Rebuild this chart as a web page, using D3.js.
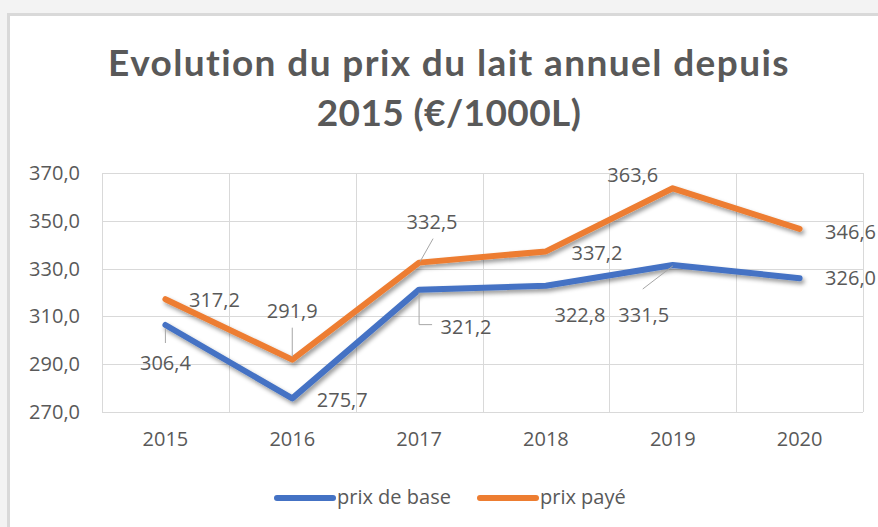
<!DOCTYPE html>
<html lang="fr">
<head>
<meta charset="utf-8">
<script src="https://d3js.org/d3.v7.min.js"></script>
<title>Evolution du prix du lait</title>
<style>
  body { margin: 0; background: #f3f3f3; }
  svg { display: block; }
  .grid line { stroke: #d9d9d9; stroke-width: 1; }
  .lbl { font-family: "Open Sans", sans-serif; font-size: 20px; fill: #595959; }
</style>
</head>
<body>
<svg width="878" height="527"></svg>
<script>
// data
var years = ["2015", "2016", "2017", "2018", "2019", "2020"];
var prixBase = [306.4, 275.7, 321.2, 322.8, 331.5, 326.0];
var prixPaye = [317.2, 291.9, 332.5, 337.2, 363.6, 346.6];
var yTicks = [270, 290, 310, 330, 350, 370];
var seriesNames = ["prix de base", "prix payé"];
var seriesColors = ["#4472c4", "#ed7d31"];

// where Excel put each data label, relative to its point (dx, dy)
var baseLabelOffsets = [[0, 38], [50, 2], [47, 37], [34, 29], [-29, 50], [51, 0]];
var payeLabelOffsets = [[49, 1], [0, -49], [13, -41], [51, 2], [-40, -13], [51, 3]];

var svg = d3.select("svg"),
    margin = {top: 173, right: 15, bottom: 115, left: 102},
    width = 863 - margin.left,
    height = 412 - margin.top;

// chart frame
svg.append("rect")
    .attr("x", 8.5).attr("y", 14.5)
    .attr("width", 900).attr("height", 600)
    .attr("fill", "#fff")
    .attr("stroke", "#d9d9d9")
    .attr("stroke-width", 3);

var defs = svg.append("defs");
defs.append("filter")
    .attr("id", "shadow")
    .attr("x", "-10%").attr("y", "-10%")
    .attr("width", "120%").attr("height", "130%")
  .append("feDropShadow")
    .attr("dx", 2).attr("dy", 3)
    .attr("stdDeviation", 2.2)
    .attr("flood-color", "#000")
    .attr("flood-opacity", 0.4);

// title
var title = svg.append("text")
    .attr("text-anchor", "middle")
    .style("font-family", "Lato, sans-serif")
    .style("font-weight", "bold")
    .style("font-size", "37px")
    .attr("fill", "#595959");
title.append("tspan").attr("x", 449).attr("y", 76)
    .style("letter-spacing", "1.4px")
    .text("Evolution du prix du lait annuel depuis");
title.append("tspan").attr("x", 449).attr("y", 126)
    .style("letter-spacing", "0.4px")
    .text("2015 (€/1000L)");

var g = svg.append("g").attr("transform", "translate(" + margin.left + "," + margin.top + ")");

var x = d3.scaleBand().domain(years).range([0, width]);
var y = d3.scaleLinear().domain([270, 370]).range([height, 0]);

// gridlines
g.append("g")
    .attr("class", "grid")
    .selectAll("line.h")
    .data(yTicks)
    .enter().append("line")
      .attr("x1", 0).attr("x2", width)
      .attr("y1", function(d) { return Math.round(y(d)) + 0.5; })
      .attr("y2", function(d) { return Math.round(y(d)) + 0.5; });

g.append("g")
    .attr("class", "grid")
    .selectAll("line.v")
    .data(years.concat(["end"]))
    .enter().append("line")
      .attr("x1", function(d, i) { return Math.round(i * x.step()) + 0.5; })
      .attr("x2", function(d, i) { return Math.round(i * x.step()) + 0.5; })
      .attr("y1", 0).attr("y2", height);

// axes (labels only)
var yAxis = g.append("g")
    .call(d3.axisLeft(y).tickValues(yTicks).tickSize(0).tickPadding(22)
      .tickFormat(function(d) { return d3.format(".1f")(d).replace(".", ","); }));
yAxis.select(".domain").remove();
yAxis.selectAll("text").attr("class", "lbl").attr("font-size", null).attr("font-family", null);

var xAxis = g.append("g")
    .attr("transform", "translate(0," + height + ")")
    .call(d3.axisBottom(x).tickSize(0).tickPadding(20));
xAxis.select(".domain").remove();
xAxis.selectAll("text").attr("class", "lbl").attr("font-size", null).attr("font-family", null);

var line = d3.line()
    .x(function(d, i) { return x(years[i]) + x.bandwidth() / 2; })
    .y(function(d) { return y(d); });

var series = [prixBase, prixPaye];
var offsets = [baseLabelOffsets, payeLabelOffsets];

series.forEach(function(vals, s) {
  g.append("path")
      .datum(vals)
      .attr("fill", "none")
      .attr("stroke", seriesColors[s])
      .attr("stroke-width", 6)
      .attr("stroke-linejoin", "round")
      .attr("stroke-linecap", "round")
      .attr("filter", "url(#shadow)")
      .attr("d", line);
});

// leader lines (from label towards the point)
var leaders = [
  {s: 1, i: 1, pts: [[0, -32], [0, -3]]},
  {s: 1, i: 2, pts: [[14, -24], [1, -1]]},
  {s: 0, i: 0, pts: [[0, 18], [0, 3]]},
  {s: 0, i: 2, pts: [[0, 3], [0, 35], [13, 35]]},
  {s: 0, i: 4, pts: [[-30, 24], [0, 1]]}
];
leaders.forEach(function(l) {
  var px = x(years[l.i]) + x.bandwidth() / 2, py = y(series[l.s][l.i]);
  g.append("path")
      .attr("fill", "none")
      .attr("stroke", "#a6a6a6")
      .attr("stroke-width", 1)
      .attr("d", d3.line()(l.pts.map(function(p) { return [px + p[0], py + p[1]]; })));
});

// data labels
series.forEach(function(vals, s) {
  g.selectAll(".dl" + s)
    .data(vals)
    .enter().append("text")
      .attr("class", "lbl")
      .attr("text-anchor", "middle")
      .attr("dy", "0.35em")
      .attr("x", function(d, i) { return x(years[i]) + x.bandwidth() / 2 + offsets[s][i][0]; })
      .attr("y", function(d, i) { return y(d) + offsets[s][i][1]; })
      .text(function(d) { return d3.format(".1f")(d).replace(".", ","); });
});

// legend
var legendX = [277, 480];
var legend = svg.selectAll(".legend")
    .data(seriesNames)
    .enter().append("g")
      .attr("transform", function(d, i) { return "translate(" + legendX[i] + ",498)"; });
legend.append("line")
    .attr("x1", 0).attr("x2", 56)
    .attr("stroke", function(d, i) { return seriesColors[i]; })
    .attr("stroke-width", 6)
    .attr("stroke-linecap", "round");
legend.append("text")
    .attr("class", "lbl")
    .attr("x", 60)
    .attr("dy", "0.32em")
    .text(function(d) { return d; });
</script>
</body>
</html>
